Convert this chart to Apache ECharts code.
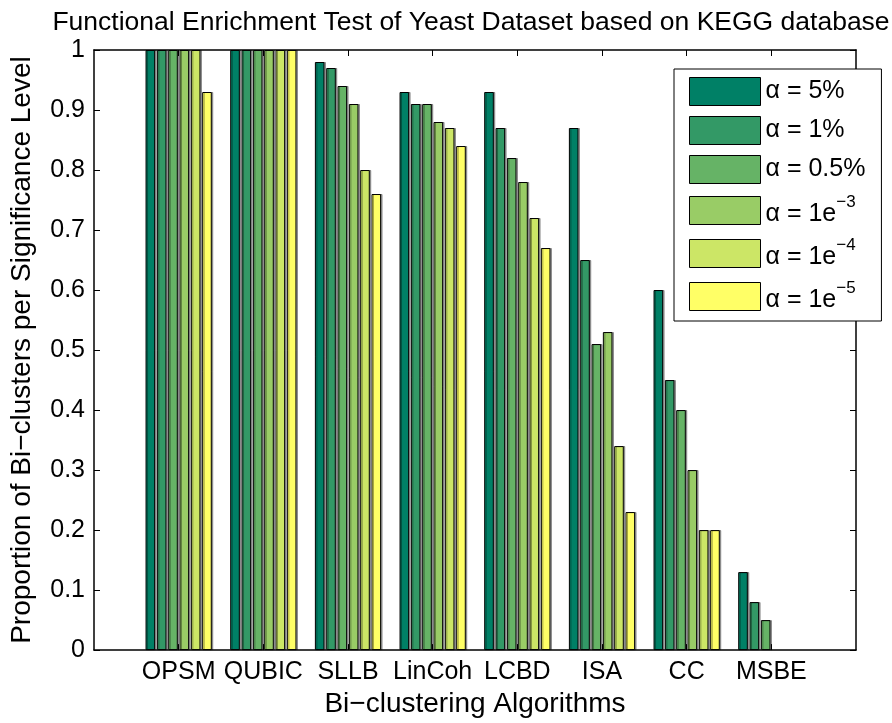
<!DOCTYPE html>
<html>
<head>
<meta charset="utf-8">
<script src="https://cdn.jsdelivr.net/npm/echarts@6/dist/echarts.min.js"></script>
<style>
html,body{margin:0;padding:0;background:#fff;}
#chart{width:892px;height:723px;}
</style>
</head>
<body>
<div id="chart"></div>
<script>
// ---- data ----
const categories = ['OPSM', 'QUBIC', 'SLLB', 'LinCoh', 'LCBD', 'ISA', 'CC', 'MSBE'];
const seriesNames = ['α = 5%', 'α = 1%', 'α = 0.5%', 'α = 1e-3', 'α = 1e-4', 'α = 1e-5'];
const alpha5pct   = [1.00, 1.00, 0.98, 0.93, 0.93, 0.87, 0.60, 0.13];
const alpha1pct   = [1.00, 1.00, 0.97, 0.91, 0.87, 0.65, 0.45, 0.08];
const alpha05pct  = [1.00, 1.00, 0.94, 0.91, 0.82, 0.51, 0.40, 0.05];
const alpha1em3   = [1.00, 1.00, 0.91, 0.88, 0.78, 0.53, 0.30, 0.00];
const alpha1em4   = [1.00, 1.00, 0.80, 0.87, 0.72, 0.34, 0.20, 0.00];
const alpha1em5   = [0.93, 1.00, 0.76, 0.84, 0.67, 0.23, 0.20, 0.00];
const yTicks = [0, 0.1, 0.2, 0.3, 0.4, 0.5, 0.6, 0.7, 0.8, 0.9, 1];

const seriesValues = [alpha5pct, alpha1pct, alpha05pct, alpha1em3, alpha1em4, alpha1em5];
const colors = ['rgb(0,128,102)', 'rgb(51,153,102)', 'rgb(102,179,102)', 'rgb(153,204,102)', 'rgb(204,230,102)', 'rgb(255,255,102)'];

const FONT = '"Liberation Sans", Arial, sans-serif';
const chart = echarts.init(document.getElementById('chart'));

const catPositions = categories.map((c, i) => i + 1);

const series = seriesValues.map((vals, s) => ({
  name: seriesNames[s],
  type: 'bar',
  barWidth: 9.6,
  barGap: '18%',
  itemStyle: {
    color: colors[s],
    borderColor: '#000',
    borderWidth: 1,
    shadowColor: 'rgba(0,0,0,0.35)',
    shadowOffsetX: 1.5,
    shadowBlur: 0
  },
  emphasis: { disabled: true },
  data: vals.map((v, i) => v === 0
    ? { value: [catPositions[i], v], itemStyle: { borderWidth: 0, shadowColor: 'transparent' } }
    : [catPositions[i], v])
}));

const axisLineStyle = { color: '#000', width: 1.5 };

chart.setOption({
  animation: false,
  color: colors,
  title: {
    text: 'Functional Enrichment Test of Yeast Dataset based on KEGG database',
    left: 466,
    textAlign: 'center',
    top: 4,
    textStyle: { fontFamily: FONT, fontSize: 26.5, fontWeight: 'normal', color: '#000' }
  },
  grid: { left: 92, right: 36, top: 50, bottom: 70, containLabel: false },
  legend: {
    left: 674,
    top: 69,
    orient: 'vertical',
    backgroundColor: '#fff',
    borderColor: '#000',
    borderWidth: 1,
    padding: [8, 16, 8, 15],
    itemWidth: 71,
    itemHeight: 28,
    itemGap: 10,
    icon: 'rect',
    selectedMode: false,
    itemStyle: { borderColor: '#000', borderWidth: 1, shadowBlur: 0, shadowOffsetX: 0 },
    formatter: function (name) {
      const m = name.match(/^α = 1e-(\d)$/);
      if (m) return '{b|α = 1e}{s|−' + m[1] + '}';
      return '{n|' + name + '}';
    },
    textStyle: {
      fontFamily: FONT, fontSize: 25, color: '#000',
      rich: {
        n: { fontFamily: FONT, fontSize: 25, color: '#000', lineHeight: 28 },
        b: { fontFamily: FONT, fontSize: 25, color: '#000', lineHeight: 28, verticalAlign: 'bottom' },
        s: { fontFamily: FONT, fontSize: 17, color: '#000', lineHeight: 33, verticalAlign: 'top' }
      }
    }
  },
  xAxis: [{
    type: 'value',
    min: 0, max: 9, interval: 1,
    position: 'bottom',
    name: 'Bi−clustering Algorithms',
    nameLocation: 'middle',
    nameGap: 39,
    nameTextStyle: { fontFamily: FONT, fontSize: 28, color: '#000' },
    splitLine: { show: false },
    axisLine: { show: true, onZero: false, lineStyle: axisLineStyle },
    axisTick: { show: true, inside: true, length: 6, customValues: catPositions, lineStyle: { color: '#000', width: 1 } },
    axisLabel: {
      show: true, margin: 10, customValues: catPositions,
      fontFamily: FONT, fontSize: 25, color: '#000',
      formatter: function (v) { return categories[Math.round(v) - 1] || ''; }
    }
  }, {
    type: 'value',
    min: 0, max: 9, interval: 1,
    position: 'top',
    splitLine: { show: false },
    axisLine: { show: true, onZero: false, lineStyle: axisLineStyle },
    axisTick: { show: true, inside: true, length: 6, customValues: catPositions, lineStyle: { color: '#000', width: 1 } },
    axisLabel: { show: false }
  }],
  yAxis: [{
    type: 'value',
    min: 0, max: 1, interval: 0.1,
    position: 'left',
    name: 'Proportion of Bi−clusters per Significance Level',
    nameLocation: 'middle',
    nameGap: 58,
    nameTextStyle: { fontFamily: FONT, fontSize: 28, color: '#000' },
    splitLine: { show: false },
    axisLine: { show: true, onZero: false, lineStyle: axisLineStyle },
    axisTick: { show: true, inside: true, length: 6, lineStyle: { color: '#000', width: 1 } },
    axisLabel: {
      margin: 9, fontFamily: FONT, fontSize: 25, color: '#000',
      customValues: yTicks,
      formatter: function (v) { return String(Math.round(v * 10) / 10); }
    }
  }, {
    type: 'value',
    min: 0, max: 1, interval: 0.1,
    position: 'right',
    splitLine: { show: false },
    axisLine: { show: true, onZero: false, lineStyle: axisLineStyle },
    axisTick: { show: true, inside: true, length: 6, lineStyle: { color: '#000', width: 1 } },
    axisLabel: { show: false }
  }],
  series: series
});
</script>
</body>
</html>
